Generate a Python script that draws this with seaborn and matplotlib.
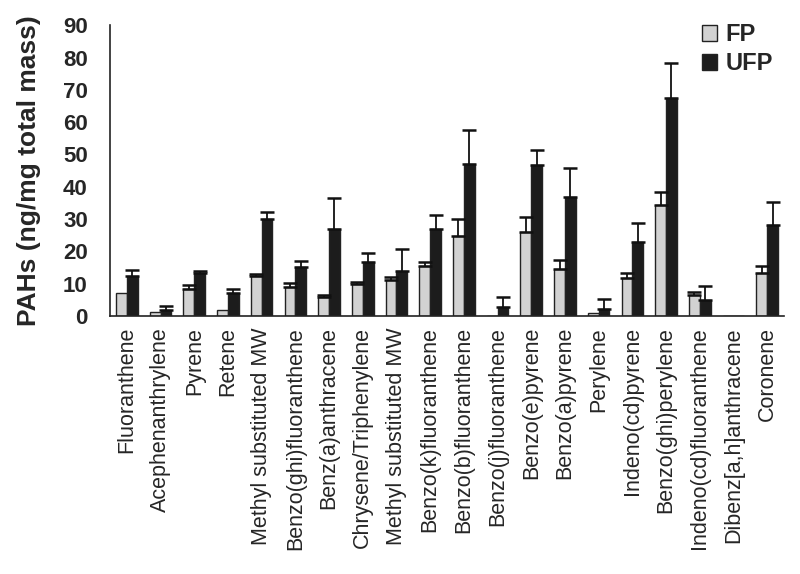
import numpy as np
import pandas as pd
import matplotlib
matplotlib.use('Agg')
import matplotlib.pyplot as plt
import seaborn as sns
from matplotlib.ticker import MultipleLocator

# 데이터
compounds = ['Fluoranthene', 'Acephenanthrylene', 'Pyrene', 'Retene',
             'Methyl substituted MW', 'Benzo(ghi)fluoranthene', 'Benz(a)anthracene',
             'Chrysene/Triphenylene', 'Methyl substituted MW', 'Benzo(k)fluoranthene',
             'Benzo(b)fluoranthene', 'Benzo(j)fluoranthene', 'Benzo(e)pyrene',
             'Benzo(a)pyrene', 'Perylene', 'Indeno(cd)pyrene', 'Benzo(ghi)perylene',
             'Indeno(cd)fluoranthene', 'Dibenz[a,h]anthracene', 'Coronene']
fp = [7.0, 1.2, 8.5, 1.9, 12.3, 9.0, 5.8, 9.9, 11.1, 15.5,
      24.8, 0, 26.1, 14.7, 0.8, 11.8, 34.3, 6.4, 0, 13.4]
fp_err = [0, 0, 1.1, 0, 0.7, 1.1, 0.7, 0.6, 1.0, 1.1,
          5.3, 0, 4.5, 2.5, 0, 1.6, 4.0, 0.9, 0, 2.0]
ufp = [12.3, 1.9, 13.4, 7.0, 30.1, 15.2, 26.9, 16.8, 14.0, 26.9,
       47.1, 2.9, 46.7, 36.8, 2.2, 22.9, 67.5, 4.9, 0, 28.3]
ufp_err = [1.9, 1.2, 0.5, 1.2, 2.1, 1.9, 9.6, 2.7, 6.8, 4.5,
           10.6, 3.1, 4.7, 8.9, 3.0, 6.0, 10.9, 4.5, 0, 6.9]

n = len(compounds)
df = pd.DataFrame({
    'idx': list(range(n)) * 2,
    'value': fp + ufp,
    'err': fp_err + ufp_err,
    'type': ['FP'] * n + ['UFP'] * n,
})

sns.set_style('white')
plt.rcParams['font.family'] = ['Liberation Sans', 'DejaVu Sans']

fig = plt.figure(figsize=(8, 5.74), dpi=100)
ax = fig.add_axes([0.1375, 0.4495, 0.8425, 0.5065])

sns.barplot(data=df, x='idx', y='value', hue='type', order=list(range(n)),
            palette={'FP': '#d2d2d2', 'UFP': '#1c1c1c'}, width=0.64, gap=0,
            errorbar=None, edgecolor='#222222', linewidth=1.0, ax=ax)

# 한쪽 방향 오차막대
for cont, grp in zip(ax.containers, ['FP', 'UFP']):
    sub = df[df['type'] == grp]
    xs = [p.get_x() + p.get_width() / 2 for p in cont.patches]
    errs = sub['err'].values
    vals = sub['value'].values
    mask = errs > 0
    ax.errorbar(np.array(xs)[mask], vals[mask],
                yerr=[np.zeros(mask.sum()), errs[mask]],
                fmt='none', ecolor='#111111', elinewidth=1.3, capsize=5, capthick=1.8)

ax.set_ylim(0, 90)
ax.set_xlim(-0.5, n - 0.5)
ax.yaxis.set_major_locator(MultipleLocator(10))
ax.set_xticks(range(n))
ax.set_xticklabels(compounds, rotation=90, fontsize=15.5)
ax.set_xticks(np.arange(-0.5, n, 1), minor=True)
ax.tick_params(axis='x', which='major', length=0, pad=8)
ax.tick_params(axis='x', which='minor', length=5, width=1.2, direction='out', color='#222222')
ax.tick_params(axis='y', length=6, width=1.2, direction='out', color='#222222',
               labelsize=16, pad=10)
for t in ax.get_yticklabels():
    t.set_fontweight('bold')

ax.set_xlabel('')
ax.set_ylabel('PAHs (ng/mg total mass)', fontsize=19, fontweight='bold', labelpad=16)

sns.despine(ax=ax)
for s in ['left', 'bottom']:
    ax.spines[s].set_color('#222222')
    ax.spines[s].set_linewidth(1.2)

ax.legend(loc='upper right', bbox_to_anchor=(1.015, 1.08), frameon=False,
          prop={'weight': 'bold', 'size': 17}, handlelength=0.65, handleheight=0.65,
          handletextpad=0.35, labelspacing=0.25)

plt.savefig('out.png', dpi=100)
